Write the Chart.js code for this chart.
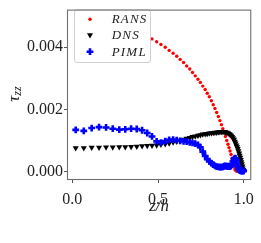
<!DOCTYPE html>
<html><head><meta charset="utf-8">
<script src="https://cdn.jsdelivr.net/npm/chart.js@4/dist/chart.umd.min.js"></script>
<style>html,body{margin:0;padding:0;background:#fff}canvas{display:block}</style>
</head><body>
<canvas id="c" width="261" height="243"></canvas>
<script>
// wall-normal coordinate z/h (grid, clustered near the wall)
const zh = [0.020,0.067,0.113,0.156,0.197,0.236,0.274,0.309,0.343,0.376,
            0.407,0.437,0.465,0.492,0.517,0.542,0.565,0.588,0.609,0.629,
            0.649,0.667,0.685,0.701,0.717,0.733,0.747,0.761,0.775,0.787,
            0.799,0.811,0.822,0.832,0.842,0.852,0.861,0.870,0.878,0.886,
            0.893,0.901,0.908,0.914,0.920,0.926,0.932,0.937,0.943,0.948,
            0.952,0.957,0.961,0.965,0.969,0.973,0.976,0.980,0.983,0.986,
            0.989,0.992,0.994,0.997,0.999];
const rans = [null,null,null,null,null,null,null,null,null,null,
            null,null,0.00427,0.00418,0.00409,0.00400,0.00390,0.00381,0.00371,0.00361,
            0.00351,0.00340,0.00330,0.00319,0.00308,0.00297,0.00287,0.00275,0.00264,0.00252,
            0.00241,0.00228,0.00215,0.00203,0.00190,0.00177,0.00164,0.00151,0.00138,0.00125,
            0.00113,0.00100,0.00088,0.00077,0.00066,0.00055,0.00043,0.00031,0.00017,0.00008,
            0.00004,0.00002,0.00001,0.00001,0.00001,0.00001,0.00001,0.00001,0.00001,0.00001,
            0.00001,0.00001,0.00000,0.00000,0.00000];
const dns = [0.00076,0.00076,0.00077,0.00077,0.00078,0.00078,0.00079,0.00079,0.00080,0.00081,
            0.00082,0.00083,0.00084,0.00085,0.00087,0.00089,0.00091,0.00094,0.00097,0.00100,
            0.00103,0.00106,0.00109,0.00112,0.00114,0.00116,0.00118,0.00120,0.00121,0.00122,
            0.00123,0.00124,0.00125,0.00126,0.00126,0.00127,0.00127,0.00128,0.00128,0.00128,
            0.00127,0.00126,0.00124,0.00122,0.00119,0.00116,0.00112,0.00108,0.00103,0.00097,
            0.00091,0.00085,0.00079,0.00073,0.00066,0.00059,0.00052,0.00045,0.00038,0.00031,
            0.00024,0.00017,0.00011,0.00006,0.00002];
const piml = [0.00134,0.00131,0.00140,0.00143,0.00142,0.00138,0.00135,0.00136,0.00138,0.00137,
            0.00133,0.00124,0.00113,0.00097,0.00093,0.00098,0.00102,0.00103,0.00101,0.00099,
            0.00097,0.00096,0.00094,0.00092,0.00090,0.00086,0.00078,0.00064,0.00050,0.00040,
            0.00033,0.00027,0.00022,0.00018,0.00016,0.00015,0.00014,0.00014,0.00015,0.00017,
            0.00018,0.00017,0.00016,0.00017,0.00016,0.00018,0.00024,0.00033,0.00040,0.00043,
            0.00042,0.00036,0.00026,0.00017,0.00010,0.00006,0.00004,0.00003,0.00002,0.00002,
            0.00002,0.00002,0.00002,0.00002,0.00002];
const xTicks = [0, 0.5, 1.0];
const yTicks = [0, 0.002, 0.004];
const seriesNames = ['RANS', 'DNS', 'PIML'];

const toPts = arr => zh.map((z, i) => ({x: z, y: arr[i]})).filter(p => p.y !== null);

const SERIF = "'Liberation Serif', 'DejaVu Serif', serif";

const framePlugin = {
  id: 'frame',
  afterDatasetsDraw(chart) {
    const {ctx, chartArea: a} = chart;
    ctx.save();
    // legend box
    const lx = 74.5, ly = 9.5, lw = 76, lh = 53;
    ctx.beginPath();
    ctx.roundRect(lx, ly, lw, lh, 2.5);
    ctx.fillStyle = 'rgba(255,255,255,0.85)';
    ctx.fill();
    ctx.strokeStyle = '#d0d0d0';
    ctx.lineWidth = 1;
    ctx.stroke();
    const mx = 90;
    const rows = [23.3, 39.3, 55.7];
    const mys = [19.3, 35, 51.7];
    // RANS marker
    ctx.fillStyle = '#ff0000';
    ctx.beginPath(); ctx.arc(mx, mys[0], 1.7, 0, Math.PI * 2); ctx.fill();
    // DNS marker (down triangle)
    ctx.fillStyle = '#000';
    const r = 3.5;
    ctx.beginPath();
    ctx.moveTo(mx - r * 0.866, mys[1] - r * 0.5);
    ctx.lineTo(mx + r * 0.866, mys[1] - r * 0.5);
    ctx.lineTo(mx, mys[1] + r);
    ctx.closePath(); ctx.fill();
    // PIML marker (plus)
    ctx.strokeStyle = '#0000ff'; ctx.lineWidth = 2.6;
    ctx.beginPath();
    ctx.moveTo(mx - 3.4, mys[2]); ctx.lineTo(mx + 3.4, mys[2]);
    ctx.moveTo(mx, mys[2] - 3.4); ctx.lineTo(mx, mys[2] + 3.4);
    ctx.stroke();
    // texts
    ctx.fillStyle = '#222';
    ctx.font = "italic 13px " + SERIF;
    ctx.textBaseline = 'alphabetic';
    ctx.textAlign = 'left';
    try { ctx.letterSpacing = '1.2px'; } catch (e) {}
    seriesNames.forEach((n, i) => ctx.fillText(n, 111.7, rows[i]));
    try { ctx.letterSpacing = '0px'; } catch (e) {}
    // frame
    ctx.strokeStyle = '#707070';
    ctx.lineWidth = 1.1;
    ctx.strokeRect(a.left - 0.5, a.top - 0.5, a.right - a.left + 1, a.bottom - a.top + 1);
    // axis titles
    ctx.fillStyle = '#222';
    ctx.font = "italic 17px " + SERIF;
    ctx.textAlign = 'center';
    ctx.fillText('z/h', (a.left + a.right) / 2, 211);
    ctx.translate(19, 94);
    ctx.rotate(-Math.PI / 2);
    ctx.textAlign = 'left';
    ctx.font = "italic 17px " + SERIF;
    const tw = ctx.measureText('τ').width;
    ctx.font = "italic 12px " + SERIF;
    const sw = ctx.measureText('zz').width;
    const start = -(tw + sw) / 2;
    ctx.font = "italic 17px " + SERIF;
    ctx.fillText('τ', start, 0);
    ctx.font = "italic 12px " + SERIF;
    ctx.fillText('zz', start + tw, 2);
    ctx.restore();
  }
};

new Chart(document.getElementById('c'), {
  type: 'scatter',
  data: {
    datasets: [
      {label: seriesNames[0], data: toPts(rans), order: 3, pointStyle: 'circle', pointRadius: 1.7,
       backgroundColor: '#ff0000', borderWidth: 0},
      {label: seriesNames[1], data: toPts(dns), order: 2, pointStyle: 'triangle', rotation: 180, pointRadius: 3.5,
       backgroundColor: '#000000', borderWidth: 0},
      {label: seriesNames[2], data: toPts(piml), order: 1, pointStyle: 'cross', pointRadius: 3.4,
       borderColor: '#0000ff', backgroundColor: '#0000ff', borderWidth: 2.6}
    ]
  },
  options: {
    responsive: false,
    animation: false,
    devicePixelRatio: 1,
    layout: {padding: {top: 5, right: 7, bottom: 0, left: 0}},
    plugins: {legend: {display: false}, tooltip: {enabled: false}},
    scales: {
      x: {
        type: 'linear', min: -0.025, max: 1.038,
        afterBuildTicks: s => { s.ticks = xTicks.map(v => ({value: v})); },
        afterFit: s => { s.height = 64; },
        ticks: {callback: v => v.toFixed(1), font: {family: SERIF, size: 16}, color: '#222', padding: 7, maxRotation: 0, autoSkip: false},
        grid: {display: true, drawOnChartArea: false, drawTicks: true, tickLength: 4, color: '#555', tickWidth: 1},
        border: {display: false}
      },
      y: {
        type: 'linear', min: -0.00024, max: 0.005181,
        afterBuildTicks: s => { s.ticks = yTicks.map(v => ({value: v})); },
        afterFit: s => { s.width = 68; },
        ticks: {callback: v => v.toFixed(3), font: {family: SERIF, size: 16}, color: '#222', padding: 1, autoSkip: false},
        grid: {display: true, drawOnChartArea: false, drawTicks: true, tickLength: 4, color: '#555', tickWidth: 1},
        border: {display: false}
      }
    }
  },
  plugins: [framePlugin]
});
</script>
</body></html>
